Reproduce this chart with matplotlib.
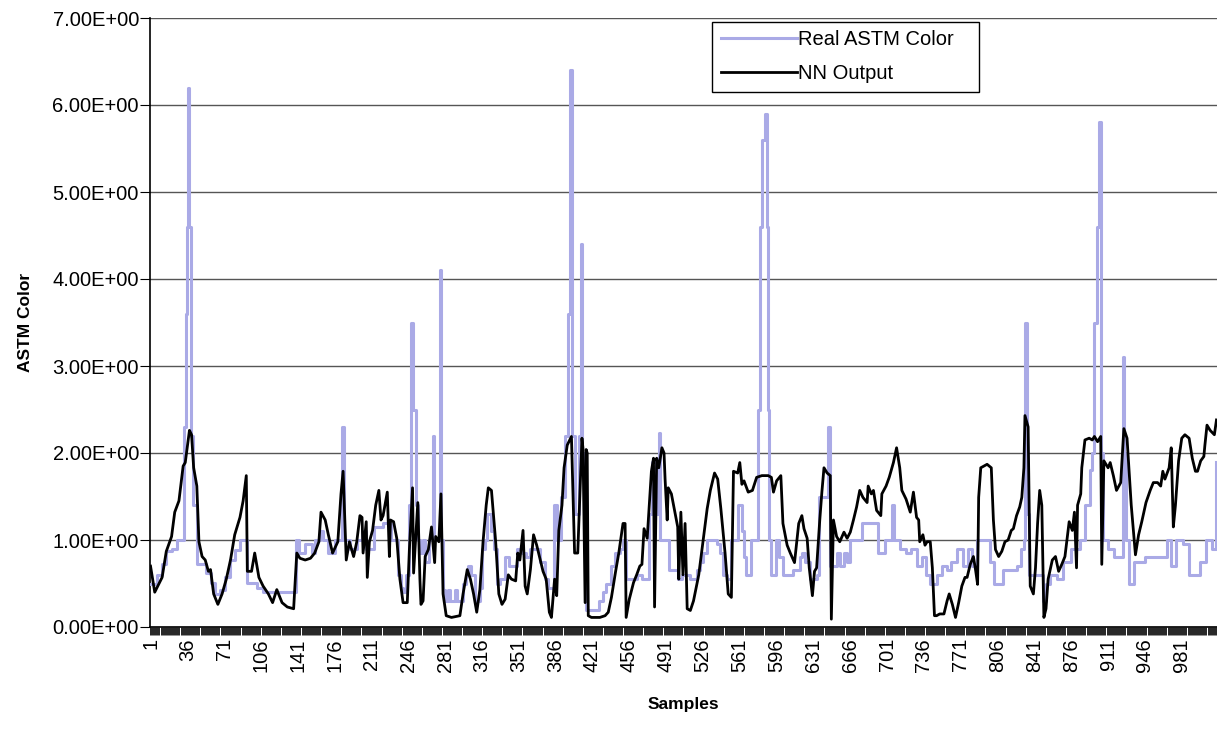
import numpy as np
import matplotlib.pyplot as plt
from matplotlib.ticker import FuncFormatter

plt.rcParams['font.family'] = ['Liberation Sans', 'DejaVu Sans']

n_samples = 1014

# Real ASTM Color: sample where each level starts, and the level
real_x = [1, 7, 12, 16, 21, 26, 33, 35, 36, 37, 38, 39, 41, 45, 54, 58, 62, 67, 72, 77, 81, 86, 93,
          102, 108, 139, 142, 148, 154, 157, 162, 165, 170, 176, 183, 185, 191, 197, 202, 206, 213,
          222, 230, 236, 239, 241, 244, 247, 249, 250, 253, 255, 257, 260, 262, 266, 269, 270, 276,
          277, 279, 281, 284, 286, 290, 292, 298, 301, 303, 306, 309, 314, 316, 319, 321, 325, 327,
          330, 333, 338, 342, 349, 354, 358, 362, 371, 376, 379, 384, 387, 391, 395, 398, 400, 402,
          404, 408, 410, 411, 413, 415, 427, 431, 434, 439, 442, 447, 450, 453, 463, 468, 475, 478,
          481, 484, 485, 494, 502, 506, 514, 520, 523, 526, 530, 539, 542, 545, 549, 553, 559, 563,
          565, 567, 572, 578, 580, 582, 585, 587, 588, 589, 591, 595, 598, 602, 612, 618, 620, 623,
          628, 634, 636, 645, 647, 650, 653, 656, 660, 663, 666, 677, 692, 699, 706, 708, 713, 719,
          724, 729, 734, 738, 742, 748, 753, 758, 762, 767, 773, 778, 782, 786, 799, 803, 811, 824,
          828, 831, 832, 834, 836, 849, 852, 856, 862, 868, 876, 884, 889, 894, 896, 898, 900, 902,
          904, 906, 911, 917, 925, 926, 928, 931, 936, 946, 967, 971, 976, 982, 988, 998, 1004,
          1010, 1014]
real_y = [0.49, 0.6, 0.72, 0.87, 0.9, 1.0, 2.3, 3.6, 4.6, 6.2, 4.6, 2.2, 1.4, 0.72, 0.62, 0.51, 0.38,
          0.43, 0.57, 0.77, 0.89, 1.0, 0.51,
          0.45, 0.4, 1.0, 0.85, 0.95, 0.85, 1.0, 1.1, 1.0, 0.85, 1.0, 2.3, 1.0, 0.9, 1.0, 1.1, 0.9, 1.15,
          1.2, 1.0, 0.6, 0.45, 0.4, 0.6, 1.4, 3.5, 2.5, 1.4, 1.0, 0.85, 1.0, 0.75, 1.0, 2.2, 1.0, 4.1,
          1.0, 0.43, 0.3, 0.43, 0.3, 0.43, 0.3, 0.5, 0.6, 0.7, 0.6, 0.3, 0.45, 0.9, 1.0, 1.3, 1.1, 0.9,
          0.5, 0.55, 0.8, 0.7, 0.9, 0.85, 0.8, 0.9, 0.75, 0.55, 0.45, 1.4, 1.0, 1.5, 2.2, 3.6, 6.4, 2.2,
          1.3, 2.2, 4.4, 2.0, 1.0, 0.19, 0.3, 0.4, 0.5, 0.7, 0.85, 0.9, 1.0, 0.55, 0.6, 0.55, 1.3, 1.9,
          1.3, 2.23, 1.0, 0.65, 0.55, 0.6, 0.55, 0.65, 0.75, 0.85, 1.0, 0.95, 0.85, 0.6, 0.55, 1.0, 1.4, 1.1,
          0.8, 0.6, 1.0, 2.5, 4.6, 5.6, 5.9, 4.6, 2.5, 1.0, 0.6, 1.0, 0.8, 0.6, 0.65, 0.8, 0.85, 0.75,
          0.55, 0.6, 1.5, 2.3, 0.7, 0.7, 0.85, 0.7, 0.85, 0.75, 1.0, 1.2, 0.85, 1.0, 1.4, 1.0, 0.9, 0.85,
          0.9, 0.7, 0.8, 0.6, 0.5, 0.6, 0.7, 0.65, 0.75, 0.9, 0.7, 0.9, 0.7, 1.0, 0.75, 0.5, 0.65, 0.7,
          0.9, 1.0, 3.5, 1.3, 0.6, 0.3, 0.5, 0.6, 0.55, 0.75, 0.9, 1.0, 1.4, 1.8, 2.0, 3.5, 4.6, 5.8,
          2.0, 1.0, 0.9, 0.8, 3.1, 2.0, 1.0, 0.5, 0.75, 0.8, 1.0, 0.7, 1.0, 0.95, 0.6, 0.75, 1.0,
          0.9, 1.9]

# NN Output
nn_x = [1, 5, 12, 16, 21, 24, 28, 32, 34, 38, 40, 42, 45, 47, 50, 53, 56, 58, 61, 65, 69, 73, 77, 81,
        86, 89, 92, 93, 97,
        100, 104, 108, 113, 117, 121, 126, 131, 137, 140, 143, 148, 153, 157, 161, 163, 167, 170, 174,
        179, 182, 184, 187, 190, 194, 197, 200,
        202, 203, 206, 207, 209, 212, 215, 218, 220, 222, 226, 228, 229, 232, 235, 238, 241, 245, 247,
        250, 251, 255, 257, 258, 260, 262, 265, 268, 271, 272, 275, 277, 279, 282, 287, 295, 298, 302,
        305,
        308, 311, 314, 317, 320, 322, 325, 329, 332, 335, 338, 341, 344, 348, 350, 352, 355, 357, 359,
        362, 365, 368, 371, 374, 377, 380, 382, 385, 387, 389, 392, 394, 397, 401, 404, 407, 411,
        412, 414, 415, 416, 417, 420, 428, 433, 436, 439, 443, 446, 448, 450, 452, 453, 456, 460, 463,
        466, 468, 470, 473, 475, 477, 479, 480, 482, 484, 487, 489, 490, 492, 493, 496, 500, 502, 503,
        505, 507, 509, 511, 514,
        517, 522, 526, 530, 533, 537, 540, 543, 547, 550, 553, 555, 559, 561, 563, 565, 569, 573, 577,
        582, 588, 591, 593, 596, 600, 602, 606, 609, 613, 617, 620,
        622, 625, 627, 630, 632, 634, 637, 639, 641, 644, 647, 648, 650, 653, 656, 660, 663, 666, 669,
        672, 675, 678, 682, 683, 686, 688, 691, 695, 696, 700, 703, 707, 710, 713, 715, 719, 723, 726,
        729, 731, 732, 735, 737, 739, 742, 744, 746, 748, 751, 755, 758, 760, 763, 766, 769, 772, 775,
        777, 780, 783, 785, 787, 788, 790, 793, 796, 800, 802, 804, 807, 810, 813, 816, 819, 821, 824,
        827, 829,
        831, 832, 835, 837, 840, 842, 844, 846, 848, 850, 852, 854, 858, 861, 864, 867, 870, 874, 877,
        879, 881, 882, 885, 886, 889, 893, 896, 898, 901, 904, 905, 907, 911, 913, 916, 919, 923, 926,
        929, 933, 937,
        940, 943, 947, 951, 954, 958, 961, 963, 965, 969, 971, 973, 975, 978, 981, 984, 988, 991, 994,
        996, 999, 1002, 1003, 1005, 1008, 1012, 1014]
nn_y = [0.70, 0.40, 0.57, 0.87, 1.04, 1.32, 1.45, 1.85, 1.89, 2.26, 2.21, 1.83, 1.62, 0.98, 0.81, 0.77,
        0.64, 0.66, 0.38, 0.26, 0.38, 0.55, 0.77, 1.06, 1.26, 1.45, 1.74, 0.64, 0.64,
        0.85, 0.57, 0.47, 0.38, 0.28, 0.43, 0.28, 0.23, 0.21, 0.85, 0.79, 0.77, 0.79, 0.85, 0.98, 1.32,
        1.23, 1.06, 0.85, 0.98, 1.53, 1.79, 0.77, 0.98, 0.81, 0.98, 1.28,
        1.26, 0.85, 1.21, 0.57, 0.98, 1.11, 1.40, 1.57, 1.23, 1.28, 1.55, 0.81, 1.23, 1.21, 1.02, 0.55,
        0.28, 0.28, 0.89, 1.60, 0.62, 1.43, 0.55, 0.26, 0.30, 0.81, 0.89, 1.15, 0.74, 1.04, 0.98, 1.53,
        0.38, 0.13, 0.11, 0.13, 0.38, 0.66, 0.55,
        0.38, 0.17, 0.43, 0.98, 1.40, 1.60, 1.57, 0.98, 0.38, 0.26, 0.32, 0.60, 0.55, 0.53, 0.85, 0.77,
        1.11, 0.47, 0.38, 0.66, 1.06, 0.94, 0.79, 0.64, 0.55, 0.17, 0.11, 0.55, 0.36, 1.11, 1.40, 1.83,
        2.09, 2.19, 0.85, 0.85, 2.17,
        2.05, 0.28, 2.04, 2.0, 0.13, 0.11, 0.11, 0.13, 0.17, 0.34, 0.64, 0.85, 1.02, 1.19, 1.19, 0.11,
        0.32, 0.51, 0.60, 0.70, 0.72, 1.13, 1.02, 1.40, 1.79, 1.94, 0.23, 1.94, 1.83, 2.06, 2.0, 1.70,
        1.23, 1.60, 1.53, 1.28, 1.15, 0.55, 1.32, 0.60, 1.19, 0.21, 0.19,
        0.30, 0.60, 0.98, 1.36, 1.57, 1.77, 1.70, 1.36, 0.85, 0.38, 0.34, 1.79, 1.77, 1.89, 1.64, 1.68,
        1.55, 1.57, 1.72, 1.74, 1.74, 1.72, 1.55, 1.68, 1.74, 1.19, 0.94, 0.85, 0.74, 1.19, 1.28,
        1.13, 1.02, 0.68, 0.36, 0.64, 0.68, 1.23, 1.55, 1.83, 1.77, 1.74, 0.09, 1.23, 1.04, 0.98, 1.09,
        1.02, 1.09, 1.23, 1.38, 1.57, 1.49, 1.43, 1.62, 1.53, 1.57, 1.34, 1.28, 1.53, 1.62, 1.72, 1.89,
        2.06, 1.83, 1.57, 1.47, 1.32, 1.55,
        1.26, 1.23, 0.98, 1.06, 0.94, 0.98, 0.98, 0.68, 0.13, 0.13, 0.15, 0.15, 0.30, 0.38, 0.26, 0.11,
        0.28, 0.47, 0.57, 0.57, 0.72, 0.81, 0.66, 0.49, 1.49, 1.83, 1.85, 1.87, 1.83, 1.23, 0.89, 0.81,
        0.87, 0.98, 1.0, 1.11, 1.13, 1.28, 1.38, 1.49,
        1.83, 2.43, 2.30, 0.47, 0.38, 0.68, 1.19, 1.57, 1.40, 0.11, 0.21, 0.55, 0.77, 0.81, 0.64, 0.72,
        0.81, 1.21, 1.11, 1.32, 0.68, 1.40, 1.53, 1.83, 2.15, 2.17, 2.15, 2.19, 2.13, 2.19, 0.72, 1.91,
        1.83, 1.89, 1.74, 1.57, 1.66, 2.28, 2.17, 1.40, 0.83,
        1.06, 1.21, 1.43, 1.57, 1.66, 1.66, 1.62, 1.79, 1.70, 1.83, 2.06, 1.15, 1.40, 1.91, 2.17, 2.21,
        2.17, 1.94, 1.79, 1.79, 1.91, 1.96, 2.09, 2.32, 2.26, 2.21, 2.38]

tick_labels = list(range(1, n_samples, 35))

fig = plt.figure(figsize=(12.17, 7.31), dpi=100)
ax = fig.add_axes([150 / 1217, 104 / 731, 1067 / 1217, 609 / 731])

ax.step(real_x, real_y, where='post', color='#aaaae6', lw=2.2, label='Real ASTM Color   ', zorder=3)
ax.plot(nn_x, nn_y, color='black', lw=2.0, label='NN Output', zorder=4)

ax.set_xlim(0.5, n_samples + 0.5)
ax.set_ylim(0, 7)
ax.set_yticks(range(0, 8))
ax.yaxis.set_major_formatter(FuncFormatter(lambda v, p: f"{v:.2E}"))
ax.grid(axis='y', color='#555555', lw=1)
ax.set_axisbelow(True)

ax.set_xticks(tick_labels)
ax.set_xticklabels([str(t) for t in tick_labels], rotation=90)
ax.set_xticks(np.arange(0.5, n_samples + 1, 1), minor=True)
ax.tick_params(axis='x', which='major', length=0, labelsize=14.5, pad=8)
ax.tick_params(axis='x', which='minor', length=6, width=0.6, color='black')
ax.tick_params(axis='y', length=7, labelsize=14.5, pad=1)

for side in ['top', 'right']:
    ax.spines[side].set_visible(False)
ax.spines['left'].set_linewidth(1.2)
ax.spines['bottom'].set_linewidth(1.2)

ax.set_xlabel('Samples', fontsize=12.5, fontweight='bold', labelpad=18)
ax.set_ylabel('ASTM Color', fontsize=12.5, fontweight='bold', labelpad=14)

leg = ax.legend(loc='upper left', bbox_to_anchor=(0.527, 0.994), fontsize=14.5, frameon=True,
                fancybox=False, edgecolor='black', framealpha=1, handlelength=3.8,
                handletextpad=0.05, labelspacing=0.75, borderaxespad=0, borderpad=0.42)
leg.get_frame().set_linewidth(1)

fig.savefig('out.png', dpi=100)
